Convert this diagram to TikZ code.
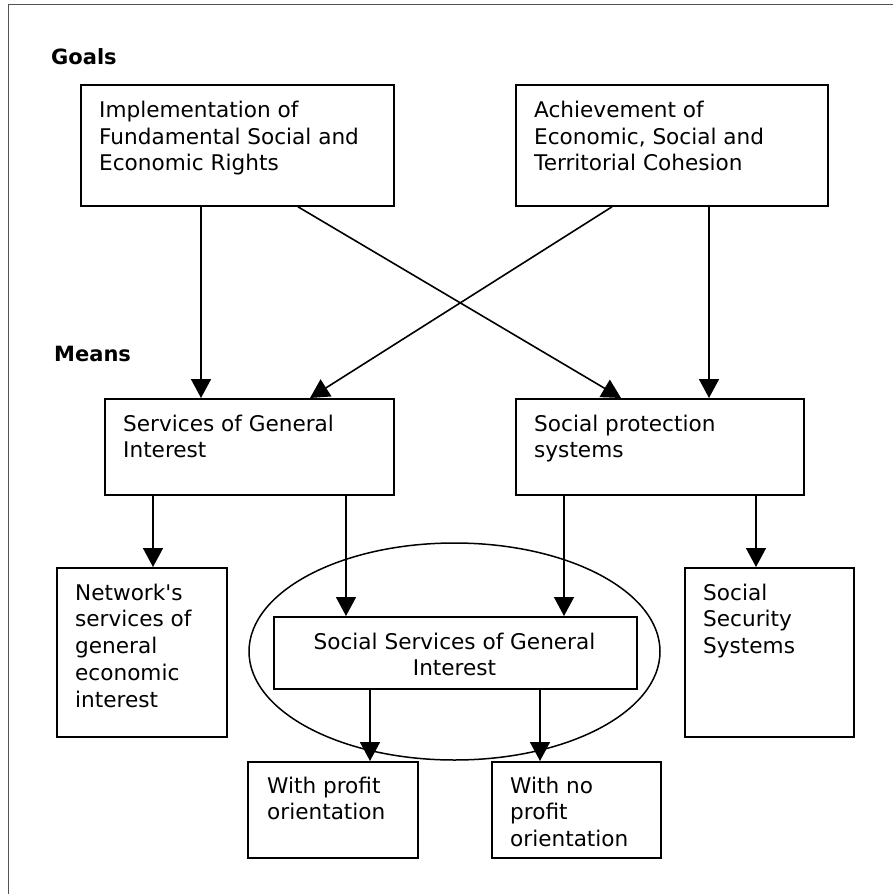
\documentclass[tikz,border=0pt]{standalone}
\usepackage{fontspec}
\setmainfont{DejaVu Sans}
\usetikzlibrary{arrows.meta,shapes.geometric}
\newcommand\tstrut{\rule{0pt}{17pt}}
\begin{document}
\begin{tikzpicture}[x=1pt,y=-1pt,
  box/.style={draw, line width=1.8pt, inner sep=0pt, anchor=north west},
  txt/.style={inner sep=0pt, anchor=north west, align=left, font=\fontsize{21.6}{26.7}\selectfont},
  ctxt/.style={inner sep=0pt, anchor=north, align=center, font=\fontsize{21.6}{26.7}\selectfont},
  lbl/.style={inner sep=0pt, anchor=base west, font=\fontsize{21}{26}\selectfont\bfseries},
  arr/.style={line width=1.6pt, -{Triangle[length=19pt,width=20pt]}},
  frame/.style={draw=black!68, line width=1.8pt}]
\useasboundingbox (0,0) rectangle (893,894);
% frame
\coordinate (fa) at (8.5,894);
\coordinate (fb) at (8.5,4.5);
\coordinate (fc) at (893,4.5);
\draw[frame] (fa) -- (fb) -- (fc);
% labels
\node[lbl] (goals) at (51,64.3) {Goals};
\node[lbl] (means) at (54,361.7) {Means};
% ellipse
\node[ellipse, draw, line width=1.5pt, minimum width=411pt, minimum height=217pt, inner sep=0pt] (ell) at (454.5,651.5) {};
% boxes
\node[box, minimum width=313pt, minimum height=121pt] (b1) at (80,84) {};
\node[box, minimum width=312pt, minimum height=121pt] (b2) at (515,84) {};
\node[box, minimum width=289pt, minimum height=96pt] (b3) at (104,398) {};
\node[box, minimum width=288pt, minimum height=96pt] (b4) at (515,398) {};
\node[box, minimum width=170pt, minimum height=169pt] (b5) at (56,567) {};
\node[box, minimum width=363pt, minimum height=72pt] (b6) at (273,616) {};
\node[box, minimum width=169pt, minimum height=169pt] (b7) at (684,567) {};
\node[box, minimum width=170pt, minimum height=96pt] (b8) at (247,761) {};
\node[box, minimum width=169pt, minimum height=96pt] (b9) at (491,761) {};
% texts
\node[txt] (t1) at (99,100.3) {\tstrut Implementation of\\Fundamental Social and\\Economic Rights};
\node[txt] (t2) at (534,100.3) {\tstrut Achievement of\\Economic, Social and\\Territorial Cohesion};
\node[txt] (t3) at (123,414) {\tstrut Services of General\\Interest};
\node[txt] (t4) at (534,414) {\tstrut Social protection\\systems};
\node[txt] (t5) at (75,583) {\tstrut Network\textquotesingle s\\services of\\general\\economic\\interest};
\node[txt] (t7) at (703,583) {\tstrut Social\\Security\\Systems};
\node[txt] (t8) at (267,776) {\tstrut With profit\\orientation};
\node[txt] (t9) at (510,776) {\tstrut With no\\profit\\orientation};
\node[ctxt] (t6) at (454.5,632) {\tstrut Social Services of General\\Interest};
% arrows
\draw[arr] ([xshift=121pt]b1.south west) -- ([xshift=97pt]b3.north west);
\draw[arr] ([xshift=218pt]b1.south west) -- ([xshift=106pt]b4.north west);
\draw[arr] ([xshift=97pt]b2.south west) -- ([xshift=206pt]b3.north west);
\draw[arr] ([xshift=194pt]b2.south west) -- ([xshift=194pt]b4.north west);
\draw[arr] ([xshift=49pt]b3.south west) -- ([xshift=97pt]b5.north west);
\draw[arr] ([xshift=242pt]b3.south west) -- ([xshift=73pt]b6.north west);
\draw[arr] ([xshift=49pt]b4.south west) -- ([xshift=291pt]b6.north west);
\draw[arr] ([xshift=241pt]b4.south west) -- ([xshift=72pt]b7.north west);
\draw[arr] ([xshift=97pt]b6.south west) -- ([xshift=123pt]b8.north west);
\draw[arr] ([xshift=267pt]b6.south west) -- ([xshift=49pt]b9.north west);
\end{tikzpicture}
\end{document}
